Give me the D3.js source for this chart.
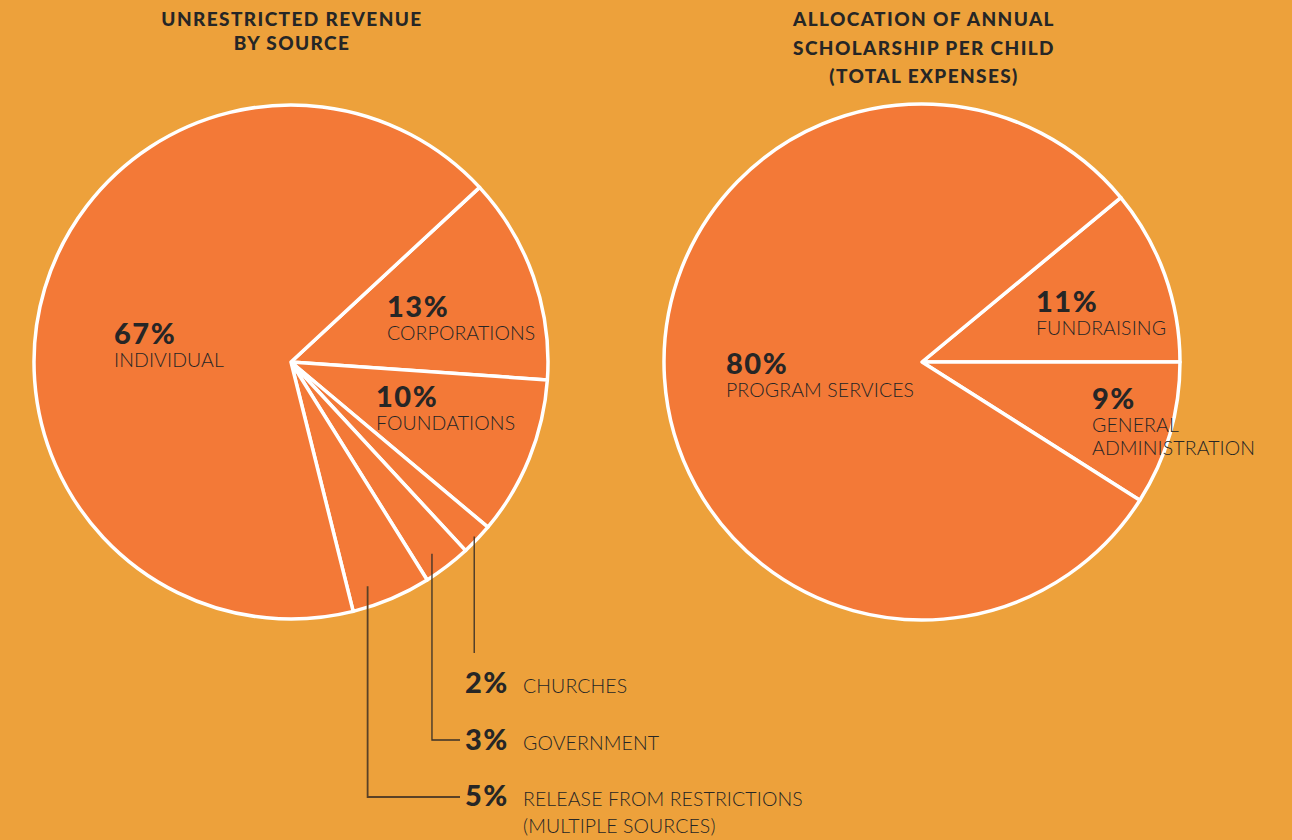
<!DOCTYPE html>
<html>
<head>
<meta charset="utf-8">
<script src="https://cdn.jsdelivr.net/npm/d3@7"></script>
<style>
  html, body { margin: 0; padding: 0; background: #EDA13B; }
  svg { display: block; }
  .title { font-family: Lato, "DejaVu Sans", sans-serif; font-weight: 900; font-size: 19px; letter-spacing: 1.4px; fill: #262626; }
  .pct { font-family: Lato, "DejaVu Sans", sans-serif; font-weight: 900; font-size: 29px; fill: #262626; letter-spacing: 1.5px; }
  .name { font-family: Lato, "DejaVu Sans", sans-serif; font-weight: 300; font-size: 19.5px; fill: #262626; letter-spacing: 0.1px; }
</style>
</head>
<body>
<svg id="chart" width="1292" height="840"></svg>
<script>
// left pie - unrestricted revenue
var revenue_names = ["CORPORATIONS", "FOUNDATIONS", "CHURCHES", "GOVERNMENT", "RELEASE FROM RESTRICTIONS|(MULTIPLE SOURCES)", "INDIVIDUAL"]
var revenue_values = [13, 10, 2, 3, 5, 67]
var revenue_title = ["UNRESTRICTED REVENUE", "BY SOURCE"]

// right pie - allocation of scholarship
var expense_names = ["FUNDRAISING", "GENERAL|ADMINISTRATION", "PROGRAM SERVICES"]
var expense_values = [11, 9, 80]
var expense_title = ["ALLOCATION OF ANNUAL", "SCHOLARSHIP PER CHILD", "(TOTAL EXPENSES)"]

var bg_color = "#EDA13B"
var slice_color = "#F37937"
var text_color = "#262626"

var svg = d3.select("#chart")

function deg(a){ return a * Math.PI / 180 }

function draw_pie(opts){
    var g = svg.append("g").attr("transform", "translate(" + opts.cx + "," + opts.cy + ")")
    var pie = d3.pie().sort(null).value(function(d){ return d.value })
        .startAngle(deg(opts.start)).endAngle(deg(opts.start + 360))
    var arcs = pie(opts.data)
    var arc = d3.arc().innerRadius(0).outerRadius(opts.r)

    g.selectAll("path.slice").data(arcs)
        .enter().append("path")
        .attr("class", "slice")
        .attr("d", arc)
        .attr("fill", slice_color)
        .attr("stroke", "white")
        .attr("stroke-width", 3.5)
        .attr("stroke-linejoin", "round")

    // title
    var t = svg.append("text").attr("class", "title").attr("text-anchor", "middle")
    opts.title.forEach(function(line, i){
        t.append("tspan").attr("x", opts.title_x).attr("y", 26 + i * opts.title_gap).text(line)
    })
    return {g: g, arcs: arcs}
}

var left = draw_pie({cx: 291, cy: 362, r: 257, start: 47.2,
    data: revenue_names.map(function(n, i){ return {name: n, value: revenue_values[i]} }),
    title: revenue_title, title_x: 292, title_gap: 24})

var right = draw_pie({cx: 922, cy: 362, r: 258, start: 50.4,
    data: expense_names.map(function(n, i){ return {name: n, value: expense_values[i]} }),
    title: expense_title, title_x: 924, title_gap: 28.5})

// inside labels: slice index, x, y of percent baseline
function inside_label(pie, idx, x, y){
    var d = pie.arcs[idx].data
    svg.append("text").attr("class", "pct").attr("x", x).attr("y", y).text(d.value + "%")
    var lines = d.name.split("|")
    var t = svg.append("text").attr("class", "name")
    lines.forEach(function(l, i){
        t.append("tspan").attr("x", x).attr("y", y + 23 + i * 23).text(l)
    })
}

inside_label(left, 5, 114, 344)
inside_label(left, 0, 387, 317)
inside_label(left, 1, 376, 407)
inside_label(right, 2, 726, 374)
inside_label(right, 0, 1036, 312)
inside_label(right, 1, 1092, 409)

// outside labels with leader lines for the small slices
var leaders = [
    {idx: 2, frac: 0.5, rad: 253, y: 693, end: 653, elbow: false, w: 1.3},
    {idx: 3, frac: 0.6, rad: 238, y: 750, end: 740, elbow: true, w: 1.3},
    {idx: 4, frac: 0.73, rad: 237, y: 806, end: 797, elbow: true, w: 1.8}
]

leaders.forEach(function(l){
    var a = left.arcs[l.idx]
    var ang = a.startAngle + l.frac * (a.endAngle - a.startAngle)
    var sx = 291 + l.rad * Math.sin(ang)
    var sy = 362 - l.rad * Math.cos(ang)
    var pts = [[sx, sy], [sx, l.end]]
    if(l.elbow){ pts.push([460, l.end]) }
    svg.append("path")
        .attr("d", d3.line()(pts))
        .attr("fill", "none")
        .attr("stroke", l.w > 1.5 ? "#5a4126" : "#3a3128")
        .attr("stroke-width", l.w)

    svg.append("text").attr("class", "pct").attr("x", 465).attr("y", l.y).text(a.data.value + "%")
    var t = svg.append("text").attr("class", "name")
    a.data.name.split("|").forEach(function(s, i){
        t.append("tspan").attr("x", 523).attr("y", l.y + i * 27).text(s)
    })
})
</script>
</body>
</html>
